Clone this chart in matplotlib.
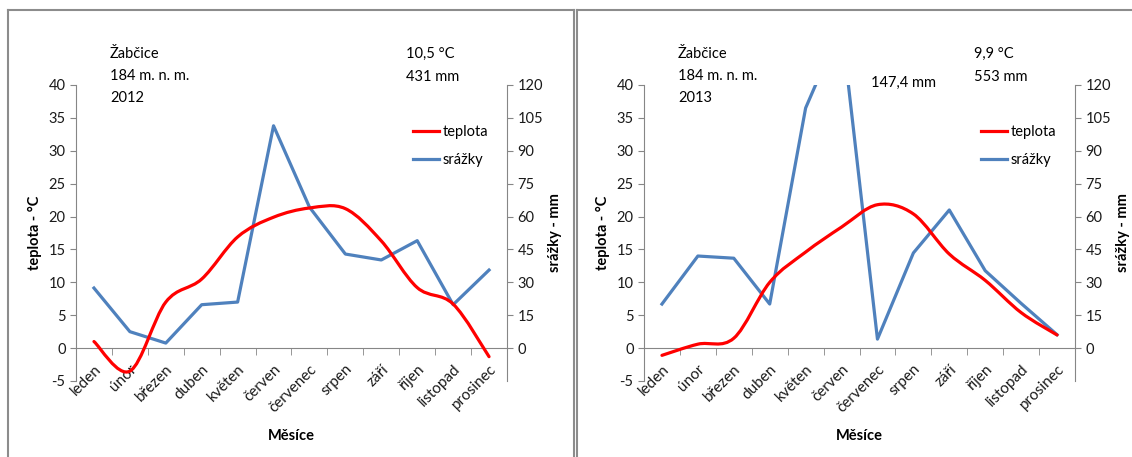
import numpy as np
import matplotlib
matplotlib.use('Agg')
import matplotlib.pyplot as plt
from matplotlib.path import Path
from matplotlib.patches import PathPatch
from matplotlib.lines import Line2D

plt.rcParams['font.family'] = ['Lato', 'DejaVu Sans']
plt.rcParams['font.size'] = 10.5
plt.rcParams['axes.unicode_minus'] = False

mesice = ['leden', 'únor', 'březen', 'duben', 'květen', 'červen',
          'červenec', 'srpen', 'září', 'říjen', 'listopad', 'prosinec']

teplota_2012 = [1.0, -3.5, 7.0, 10.5, 16.9, 19.9, 21.3, 21.2, 16.3, 9.2, 6.7, -1.3]
srazky_2012 = [27.4, 7.5, 2.3, 19.8, 21.0, 101.4, 64.3, 42.9, 40.2, 49.0, 19.8, 35.6]

teplota_2013 = [-1.1, 0.6, 1.5, 10.0, 14.6, 18.4, 21.8, 20.4, 14.3, 10.3, 5.4, 2.0]
srazky_2013 = [20.1, 42.0, 41.0, 20.1, 109.5, 147.4, 4.1, 43.4, 63.0, 35.3, 20.4, 6.1]

W, H = 1132, 457
RED = '#FF0000'
BLUE = '#4F81BD'
GREY = '#868686'


def smooth_path(x, y):
    # vyhlazena cara jako v Excelu - kubicke bezierovy krivky pres body
    p = np.column_stack([x, y])
    n = len(p)
    verts = [p[0]]
    codes = [Path.MOVETO]
    for i in range(n - 1):
        p0 = p[i - 1] if i > 0 else p[i]
        p3 = p[i + 2] if i + 2 < n else p[i + 1]
        c1 = p[i] + (p[i + 1] - p0) / 6
        c2 = p[i + 1] - (p3 - p[i]) / 6
        verts += [c1, c2, p[i + 1]]
        codes += [Path.CURVE4] * 3
    return Path(verts, codes)


def panel(left_px, teplota, srazky, rok, prumer_t, suma_s, extra=None):
    ax = fig.add_axes([left_px / W, 76 / H, 431 / W, 296 / H])
    ax2 = ax.twinx()
    x = np.arange(len(mesice))

    ax.set_xlim(-0.5, 11.5)
    ax.set_ylim(-5, 40)
    ax2.set_ylim(-15, 120)
    ax.set_yticks(np.arange(-5, 41, 5))
    ax2.set_yticks(np.arange(0, 121, 15))

    ax.add_patch(PathPatch(smooth_path(x, teplota), fill=False, edgecolor=RED,
                           lw=2.3, zorder=3, capstyle='round'))
    ax2.plot(x, srazky, color=BLUE, lw=2.3, zorder=3)
    ax.set_zorder(ax2.get_zorder() + 1)
    ax.patch.set_visible(False)

    for a in (ax, ax2):
        a.spines['top'].set_visible(False)
        a.spines['bottom'].set_visible(False)
        for s in ('left', 'right'):
            a.spines[s].set_color(GREY)
        a.tick_params(axis='y', colors='#1a1a1a', length=4, color=GREY, labelsize=10.5)
    ax.spines['right'].set_visible(False)
    ax2.spines['left'].set_visible(False)
    ax.spines['bottom'].set_visible(True)
    ax.spines['bottom'].set_position(('data', 0))
    ax.spines['bottom'].set_color(GREY)

    ax.set_xticks(x)
    ax.set_xticklabels(mesice, rotation=45, ha='right', va='top',
                       rotation_mode='anchor', fontsize=11, color='#1a1a1a')
    ax.set_xticks(np.arange(-0.5, 12, 1), minor=True)
    ax.tick_params(axis='x', which='major', length=0, pad=10)
    ax.tick_params(axis='x', which='minor', length=5, color=GREY, direction='out')

    ax.set_ylabel('teplota - °C', fontweight='bold', fontsize=10.5)
    ax.yaxis.set_label_coords(-34 / 431, 0.5)
    ax2.set_ylabel('srážky - mm', fontweight='bold', fontsize=10.5)
    ax2.yaxis.set_label_coords(472 / 431, 0.5)
    ax.set_xlabel('Měsíce', fontweight='bold', fontsize=10.5)
    ax.xaxis.set_label_coords(0.5, -0.162)

    handles = [Line2D([], [], color=RED, lw=2.3), Line2D([], [], color=BLUE, lw=2.3)]
    fig.legend(handles, ['teplota', 'srážky'], loc='upper left',
               bbox_to_anchor=((left_px + 337) / W, 1 - 125 / H),
               frameon=False, handlelength=1.78, handletextpad=0.27,
               labelspacing=0.95, borderpad=0, borderaxespad=0, fontsize=10.5)

    tx = left_px + 34
    for i, t in enumerate(['Žabčice', '184 m. n. m.', rok]):
        fig.text(tx / W, 1 - (54 + 22 * i) / H, t, va='center', ha='left')
    sx = left_px + 330
    fig.text(sx / W, 1 - 54 / H, prumer_t, va='center', ha='left')
    fig.text(sx / W, 1 - 77 / H, suma_s, va='center', ha='left')
    if extra:
        fig.text((left_px + 227) / W, 1 - 83 / H, extra, va='center', ha='left')
    return ax


fig = plt.figure(figsize=(W / 100, H / 100), dpi=100, facecolor='white')

# ramecky kolem obou grafu
border = dict(color='#8c8c8c', lw=1.5, transform=fig.transFigure)
fig.add_artist(Line2D([8 / W, 8 / W], [0, 1 - 10 / H], **border))
fig.add_artist(Line2D([8 / W, 574 / W], [1 - 10 / H, 1 - 10 / H], **border))
fig.add_artist(Line2D([574 / W, 574 / W], [0, 1 - 10 / H], **border))
fig.add_artist(Line2D([577 / W, 577 / W], [0, 1 - 10 / H], **border))
fig.add_artist(Line2D([577 / W, 1], [1 - 10 / H, 1 - 10 / H], **border))

panel(76, teplota_2012, srazky_2012, '2012', '10,5 °C', '431 mm')
panel(644, teplota_2013, srazky_2013, '2013', '9,9 °C', '553 mm', extra='147,4 mm')

plt.savefig('out.png', dpi=100)
